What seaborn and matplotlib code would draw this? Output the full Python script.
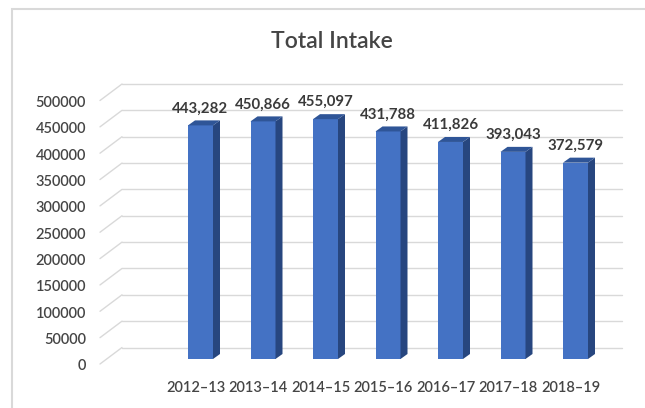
import matplotlib
matplotlib.use("Agg")
import matplotlib.pyplot as plt
from matplotlib.patches import Polygon, Rectangle
from matplotlib.lines import Line2D
from matplotlib.transforms import ScaledTranslation
import seaborn as sns
import pandas as pd

# Data
years = ["2012–13", "2013–14", "2014–15", "2015–16", "2016–17", "2017–18", "2018–19"]
intake = [443282, 450866, 455097, 431788, 411826, 393043, 372579]
y_ticks = [0, 50000, 100000, 150000, 200000, 250000, 300000, 350000, 400000, 450000, 500000]

sns.set_theme(style="white")
plt.rcParams["font.family"] = ["Lato", "DejaVu Sans"]

DPI = 100
W, H = 645, 408
FRONT = "#4472C4"
SIDE = "#27467F"
TOP = "#2F5597"
GRID = "#D9D9D9"
TEXT = "#454545"

fig = plt.figure(figsize=(W / DPI, H / DPI), dpi=DPI)
fig.patch.set_facecolor("white")

# front plane of the pseudo-3D box, in pixels
AX_L, AX_R, AX_B, AX_T = 100, 622, 359, 95.5
ax = fig.add_axes([AX_L / W, (H - AX_B) / H, (AX_R - AX_L) / W, (AX_B - AX_T) / H])

df = pd.DataFrame({"year": years, "intake": intake})
sns.barplot(data=df, x="year", y="intake", color=FRONT, saturation=1,
            width=0.4, ax=ax, zorder=3, edgecolor="none")

SLOT = 62.5                      # pixels per category
FIRST = 200.5                    # pixel centre of first category
ax.set_xlim((AX_L - FIRST) / SLOT, (AX_R - FIRST) / SLOT)
ax.set_ylim(0, 500000)
xpx = 1 / SLOT
ypx = 500000 / (AX_B - AX_T)

# depth of the bars and of the back wall
BAR_DX, BAR_DY = 7, 5
WALL_DX, WALL_DY = 22, 11.5

# back-wall gridlines and the slanted side-wall lines
wall_shift = ax.get_yaxis_transform() + ScaledTranslation(0, WALL_DY / DPI, fig.dpi_scale_trans)
for v in y_ticks:
    ax.add_line(Line2D([WALL_DX / (AX_R - AX_L), 1.0], [v, v], transform=wall_shift,
                       color=GRID, lw=1.0, zorder=0, clip_on=False))
    ax.add_line(Line2D([0, WALL_DX / (AX_R - AX_L)], [v - 5 * ypx, v + WALL_DY * ypx],
                       transform=ax.get_yaxis_transform(),
                       color=GRID, lw=1.0, zorder=0, clip_on=False))

# side and top faces of each bar, plus value labels
bars = list(ax.patches)
for p, val in zip(bars, intake):
    x0, w, h = p.get_x(), p.get_width(), p.get_height()
    dx, dy = BAR_DX * xpx, BAR_DY * ypx
    ax.add_patch(Polygon([(x0 + w, 0), (x0 + w + dx, dy), (x0 + w + dx, h + dy), (x0 + w, h)],
                         closed=True, facecolor=SIDE, edgecolor="none", zorder=3, clip_on=False))
    ax.add_patch(Polygon([(x0, h), (x0 + w, h), (x0 + w + dx, h + dy), (x0 + dx, h + dy)],
                         closed=True, facecolor=TOP, edgecolor="none", zorder=3, clip_on=False))
    ax.annotate(f"{val:,}", xy=(x0 + w / 2, h), xytext=(0, 17), textcoords="offset pixels",
                ha="center", va="center", fontsize=10.8, fontweight="bold",
                color="#3A3A3A", zorder=4, annotation_clip=False)

for s in ax.spines.values():
    s.set_visible(False)
ax.set_xlabel("")
ax.set_ylabel("")
ax.set_yticks(y_ticks)
ax.set_yticklabels([str(t) for t in y_ticks])
ax.tick_params(axis="both", length=0, labelsize=10.5, labelcolor=TEXT)
ax.tick_params(axis="y", pad=10)
ax.tick_params(axis="x", pad=16)
ax.set_facecolor("none")
ax.grid(False)

for lbl in ax.get_yticklabels() + ax.get_xticklabels():
    lbl.set_fontweight("semibold")
for lbl in ax.get_yticklabels():
    lbl.set_transform(lbl.get_transform() + ScaledTranslation(0, -6 / DPI, fig.dpi_scale_trans))
for lbl in ax.get_xticklabels():
    lbl.set_transform(lbl.get_transform() + ScaledTranslation(-5 / DPI, 0, fig.dpi_scale_trans))

fig.text(332 / W, 1 - 42 / H, "Total Intake", ha="center", va="center",
         fontsize=16.5, fontweight="semibold", color=TEXT)

# chart frame
fig.add_artist(Rectangle((12 / W, -0.1), 1.2, 1.1 - 9 / H, transform=fig.transFigure,
                         facecolor="none", edgecolor=GRID, lw=1.5))

fig.savefig("out.png", dpi=DPI)
